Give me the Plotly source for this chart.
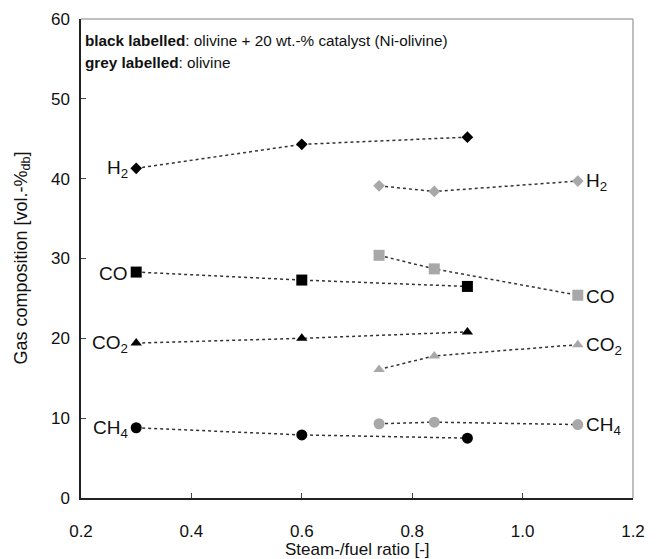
import plotly.graph_objects as go

# Data
ni_x = [0.3, 0.6, 0.9]
ni_h2 = [41.3, 44.3, 45.2]
ni_co = [28.3, 27.3, 26.5]
ni_co2 = [19.4, 20.0, 20.8]
ni_ch4 = [8.8, 7.9, 7.5]

ol_x = [0.74, 0.84, 1.1]
ol_h2 = [39.1, 38.4, 39.7]
ol_co = [30.4, 28.7, 25.4]
ol_co2 = [16.1, 17.8, 19.2]
ol_ch4 = [9.3, 9.5, 9.2]

species = ["H<sub>2</sub>", "CO", "CO<sub>2</sub>", "CH<sub>4</sub>"]
symbols = ["diamond", "square", "triangle-up", "circle"]
sizes = [9, 11, 10, 11]

x_ticks = [0.2, 0.4, 0.6, 0.8, 1.0, 1.2]
x_ticktext = ["0.2", "0.4", "0.6", "0.8", "1.0", "1.2"]
y_ticks = [0, 10, 20, 30, 40, 50, 60]

BLACK = "#000000"
GREY = "#a8a8a8"
LINE = "#333333"
TXT = "#111111"
FONT = "Liberation Sans, Arial, Helvetica, sans-serif"

fig = go.Figure()
annotations = []

ni_series = [ni_h2, ni_co, ni_co2, ni_ch4]
ol_series = [ol_h2, ol_co, ol_co2, ol_ch4]

for name, sym, sz, ys in zip(species, symbols, sizes, ni_series):
    fig.add_trace(go.Scatter(
        x=ni_x, y=ys, mode="lines+markers",
        line=dict(color=LINE, width=1.5, dash="dot"),
        marker=dict(symbol=sym, size=sz, color=BLACK),
        showlegend=False, name=name))
    annotations.append(dict(x=ni_x[0], y=ys[0], text=name, showarrow=False,
                            xanchor="right", yanchor="middle", xshift=-6, yshift=-1,
                            font=dict(size=19, color=TXT, family=FONT)))

for name, sym, sz, ys in zip(species, symbols, sizes, ol_series):
    fig.add_trace(go.Scatter(
        x=ol_x, y=ys, mode="lines+markers",
        line=dict(color=LINE, width=1.5, dash="dot"),
        marker=dict(symbol=sym, size=sz, color=GREY),
        showlegend=False, name=name))
    annotations.append(dict(x=ol_x[-1], y=ys[-1], text=name, showarrow=False,
                            xanchor="left", yanchor="middle", xshift=6, yshift=-1,
                            font=dict(size=19, color=TXT, family=FONT)))

annotations.append(dict(xref="paper", yref="paper", x=0.004, y=1, yshift=-11,
                        xanchor="left", yanchor="top", showarrow=False, align="left",
                        text="<b>black labelled</b>: olivine + 20 wt.-% catalyst (Ni-olivine)",
                        font=dict(size=15.3, color=TXT, family=FONT)))
annotations.append(dict(xref="paper", yref="paper", x=0.004, y=1, yshift=-33,
                        xanchor="left", yanchor="top", showarrow=False, align="left",
                        text="<b>grey labelled</b>: olivine",
                        font=dict(size=15.3, color=TXT, family=FONT)))

# axis titles
annotations.append(dict(xref="paper", yref="paper", x=0.5, y=0, yshift=-51,
                        xanchor="center", yanchor="middle", showarrow=False,
                        text="Steam-/fuel ratio [-]",
                        font=dict(size=17, color=TXT, family=FONT)))
annotations.append(dict(xref="paper", yref="paper", x=0, y=0.5, xshift=-59,
                        xanchor="center", yanchor="middle", showarrow=False, textangle=-90,
                        text="Gas composition [vol.-%<sub>db</sub>]",
                        font=dict(size=18, color=TXT, family=FONT)))

fig.update_layout(
    width=661, height=559,
    margin=dict(l=81, r=28, t=19, b=61),
    paper_bgcolor="white", plot_bgcolor="white",
    font=dict(family=FONT, size=18, color=TXT),
    annotations=annotations,
    shapes=[
        dict(type="line", xref="paper", yref="paper", x0=0, x1=1, y0=1, y1=1,
             line=dict(color="#aaaaaa", width=1.5)),
        dict(type="line", xref="paper", yref="paper", x0=1, x1=1, y0=0, y1=1,
             line=dict(color="#aaaaaa", width=1.5)),
    ],
    xaxis=dict(range=[0.2, 1.2], tickvals=x_ticks, ticktext=x_ticktext,
               showgrid=False, zeroline=False, showline=True, linecolor="#222222",
               linewidth=1.5, ticks="inside", ticklen=5, tickcolor="#444444",
               ticklabelstandoff=17, automargin=False,
               tickfont=dict(size=17, family=FONT, color=TXT)),
    yaxis=dict(range=[0, 60], tickvals=y_ticks,
               showgrid=False, zeroline=False, showline=True, linecolor="#222222",
               linewidth=1.5, ticks="inside", ticklen=5, tickcolor="#444444",
               ticklabelstandoff=6, automargin=False,
               tickfont=dict(size=17, family=FONT, color=TXT)),
)

fig.write_html("out.html")
